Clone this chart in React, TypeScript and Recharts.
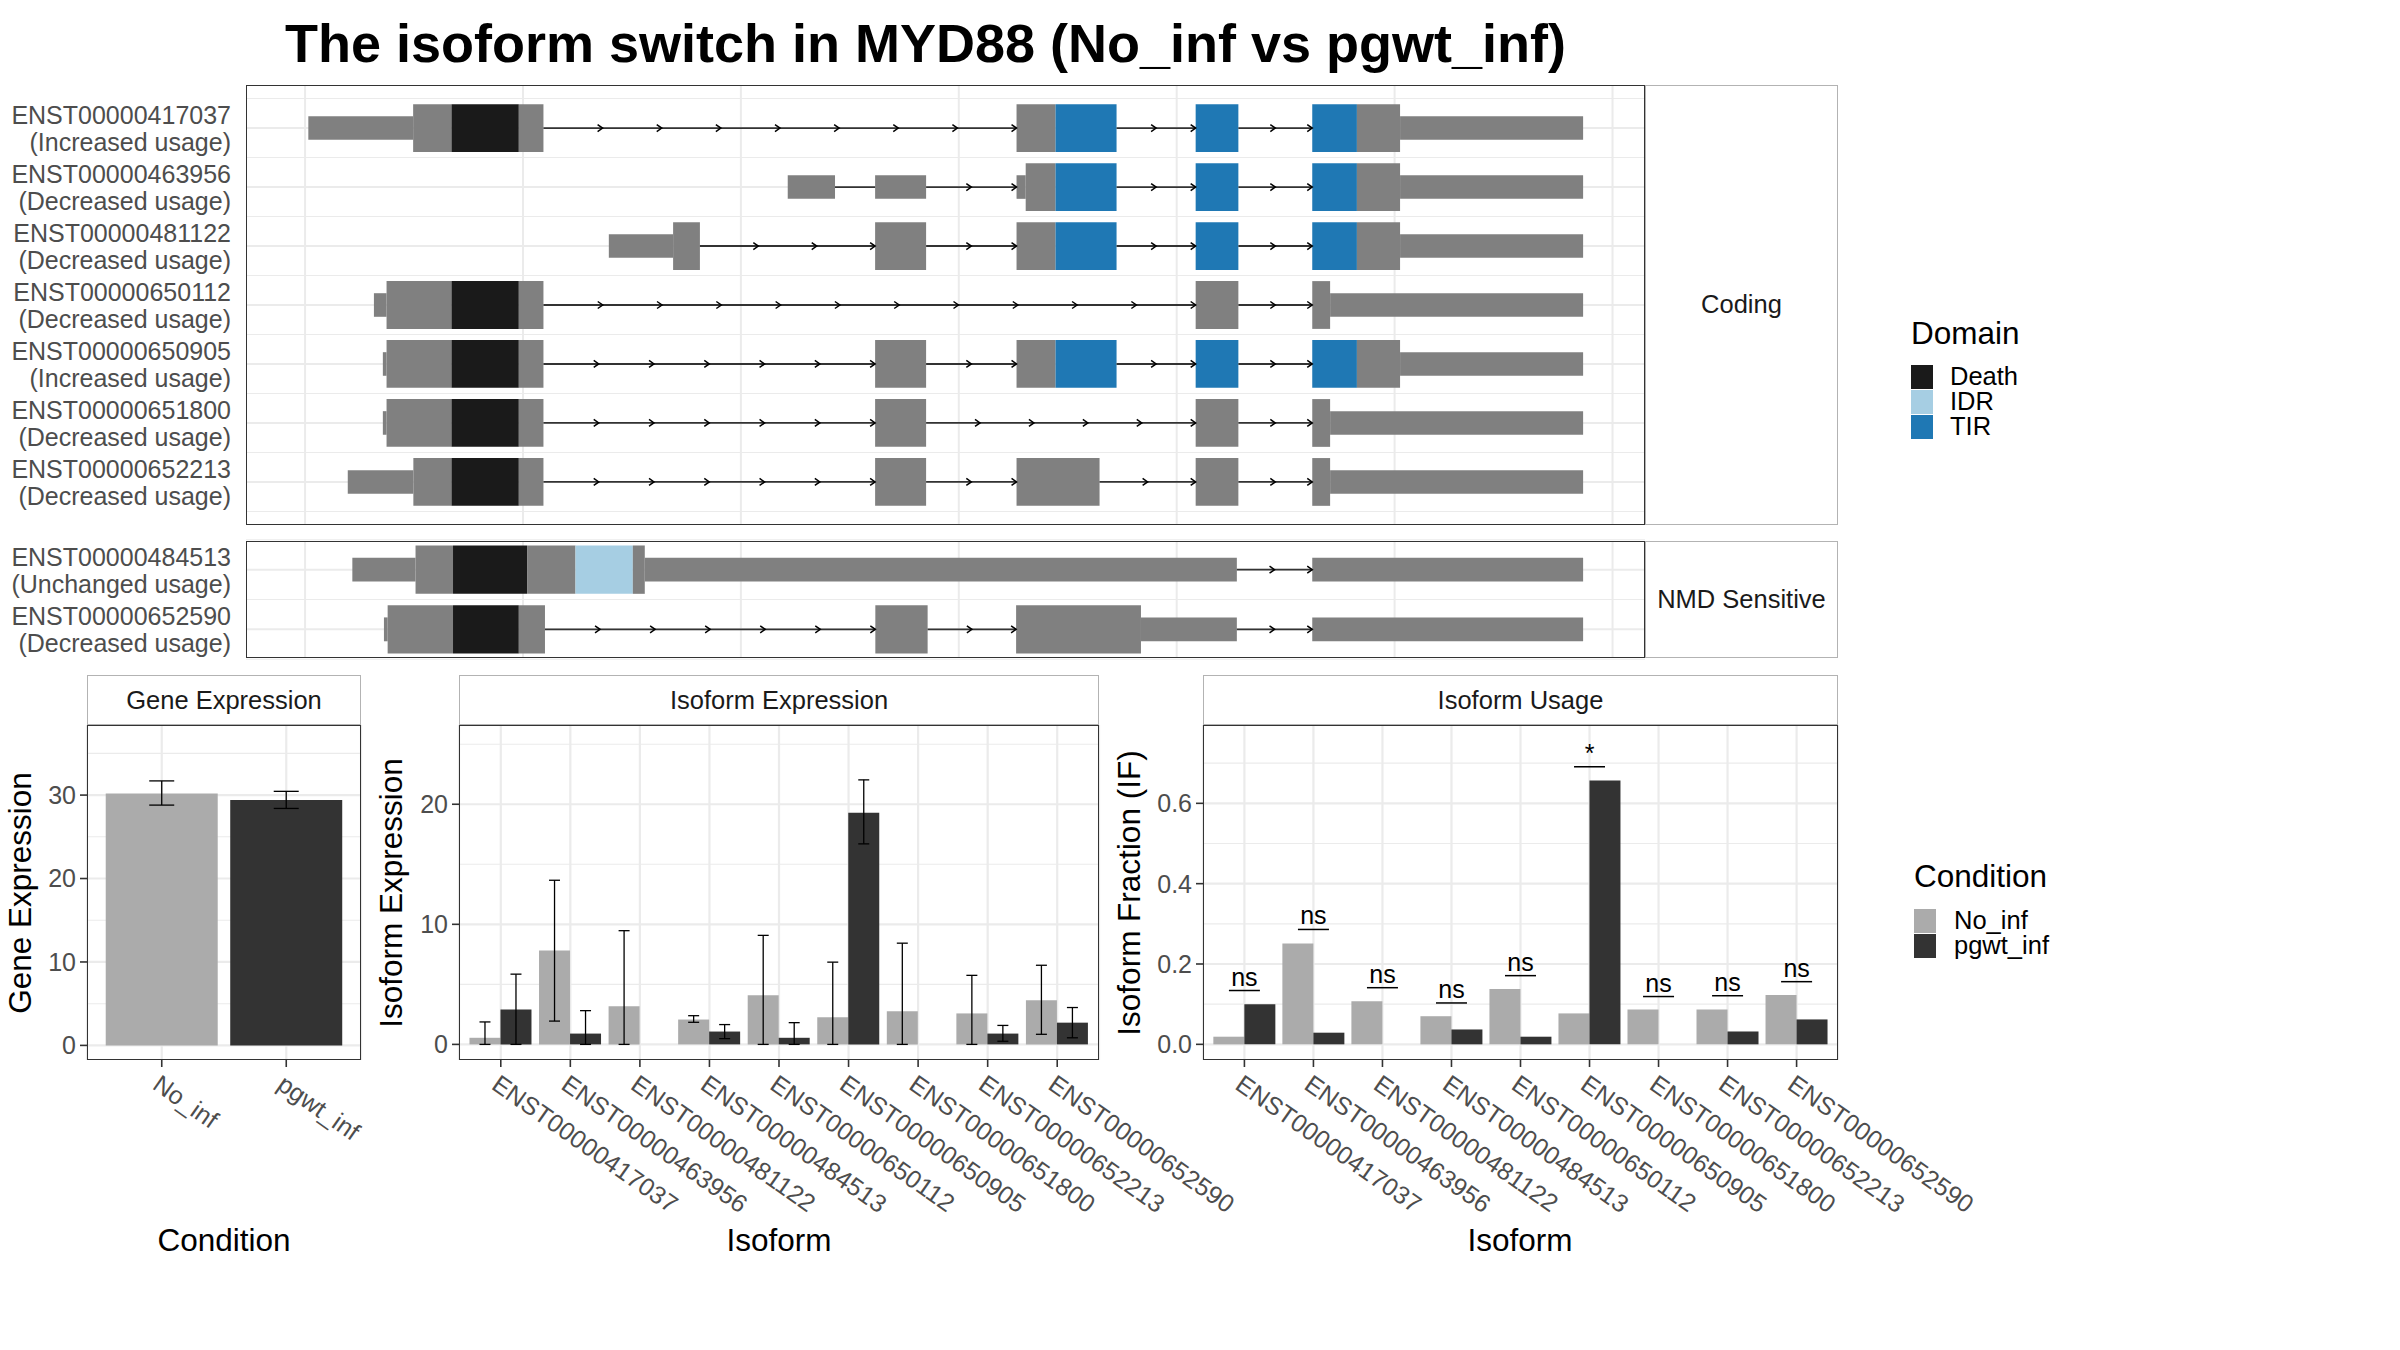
import React from 'react';
import {
  ScatterChart,
  ComposedChart,
  BarChart,
  Bar,
  Scatter,
  Cell,
  ErrorBar,
  XAxis,
  YAxis,
  CartesianGrid,
  ReferenceArea,
  ReferenceLine,
} from 'recharts';

const FONT = '"Liberation Sans", Arial, Helvetica, sans-serif';

// ---- isoform structures (genomic position in kb, part) ----
type Part = 'utr' | 'cds' | 'Death' | 'IDR' | 'TIR';
type Seg = [number, number, Part];

const codingIds = [
  'ENST00000417037',
  'ENST00000463956',
  'ENST00000481122',
  'ENST00000650112',
  'ENST00000650905',
  'ENST00000651800',
  'ENST00000652213',
];
const codingUsage = [
  'Increased usage',
  'Decreased usage',
  'Decreased usage',
  'Decreased usage',
  'Increased usage',
  'Decreased usage',
  'Decreased usage',
];
const codingExons: Seg[][] = [
  [[0.015, 0.496, 'utr'], [0.496, 0.672, 'cds'], [0.672, 0.981, 'Death'], [0.981, 1.094, 'cds'], [3.265, 3.444, 'cds'], [3.444, 3.724, 'TIR'], [4.087, 4.283, 'TIR'], [4.622, 4.827, 'TIR'], [4.827, 5.025, 'cds'], [5.025, 5.865, 'utr']],
  [[2.215, 2.432, 'utr'], [2.616, 2.85, 'utr'], [3.265, 3.307, 'utr'], [3.307, 3.444, 'cds'], [3.444, 3.724, 'TIR'], [4.087, 4.283, 'TIR'], [4.622, 4.827, 'TIR'], [4.827, 5.025, 'cds'], [5.025, 5.865, 'utr']],
  [[1.394, 1.689, 'utr'], [1.689, 1.812, 'cds'], [2.616, 2.85, 'cds'], [3.265, 3.444, 'cds'], [3.444, 3.724, 'TIR'], [4.087, 4.283, 'TIR'], [4.622, 4.827, 'TIR'], [4.827, 5.025, 'cds'], [5.025, 5.865, 'utr']],
  [[0.316, 0.374, 'utr'], [0.374, 0.672, 'cds'], [0.672, 0.981, 'Death'], [0.981, 1.094, 'cds'], [4.087, 4.283, 'cds'], [4.622, 4.704, 'cds'], [4.704, 5.865, 'utr']],
  [[0.357, 0.374, 'utr'], [0.374, 0.672, 'cds'], [0.672, 0.981, 'Death'], [0.981, 1.094, 'cds'], [2.616, 2.85, 'cds'], [3.265, 3.444, 'cds'], [3.444, 3.724, 'TIR'], [4.087, 4.283, 'TIR'], [4.622, 4.827, 'TIR'], [4.827, 5.025, 'cds'], [5.025, 5.865, 'utr']],
  [[0.357, 0.374, 'utr'], [0.374, 0.672, 'cds'], [0.672, 0.981, 'Death'], [0.981, 1.094, 'cds'], [2.616, 2.85, 'cds'], [4.087, 4.283, 'cds'], [4.622, 4.704, 'cds'], [4.704, 5.865, 'utr']],
  [[0.196, 0.497, 'utr'], [0.497, 0.672, 'cds'], [0.672, 0.981, 'Death'], [0.981, 1.094, 'cds'], [2.616, 2.85, 'cds'], [3.265, 3.646, 'cds'], [4.087, 4.283, 'cds'], [4.622, 4.704, 'cds'], [4.704, 5.865, 'utr']],
];

const nmdIds = ['ENST00000484513', 'ENST00000652590'];
const nmdUsage = ['Unchanged usage', 'Decreased usage'];
const nmdExons: Seg[][] = [
  [[0.217, 0.507, 'utr'], [0.507, 0.679, 'cds'], [0.679, 1.019, 'Death'], [1.019, 1.241, 'cds'], [1.241, 1.504, 'IDR'], [1.504, 1.559, 'cds'], [1.559, 4.276, 'utr'], [4.622, 5.865, 'utr']],
  [[0.362, 0.379, 'utr'], [0.379, 0.679, 'cds'], [0.679, 0.981, 'Death'], [0.981, 1.101, 'cds'], [2.617, 2.857, 'cds'], [3.263, 3.836, 'cds'], [3.836, 4.276, 'utr'], [4.622, 5.865, 'utr']],
];

const domainNames = ['Death', 'IDR', 'TIR'];
const domainColors: Record<string, string> = { Death: '#1A1A1A', IDR: '#A6CEE3', TIR: '#1F78B4' };
const EXON_GREY = '#808080';

// ---- expression / usage ----
const conditions = ['No_inf', 'pgwt_inf'];
const conditionColors = ['#ABABAB', '#333333'];

const geneMean = [30.2, 29.4];
const geneLow = [28.8, 28.4];
const geneHigh = [31.7, 30.45];

const isoforms = [
  'ENST00000417037',
  'ENST00000463956',
  'ENST00000481122',
  'ENST00000484513',
  'ENST00000650112',
  'ENST00000650905',
  'ENST00000651800',
  'ENST00000652213',
  'ENST00000652590',
];
const exprNo = [0.55, 7.82, 3.17, 2.07, 4.1, 2.26, 2.75, 2.58, 3.68];
const exprNoLow = [0, 1.94, 0, 1.84, 0, 0, 0, 0, 0.84];
const exprNoHigh = [1.87, 13.67, 9.47, 2.39, 9.08, 6.85, 8.43, 5.75, 6.59];
const exprPg = [2.9, 0.9, 0, 1.07, 0.55, 19.29, 0, 0.9, 1.81];
const exprPgLow = [0, 0, 0, 0.48, 0, 16.7, 0, 0.26, 0.55];
const exprPgHigh = [5.85, 2.81, 0, 1.65, 1.81, 22.03, 0, 1.58, 3.07];

const ifNo = [0.019, 0.251, 0.107, 0.07, 0.138, 0.077, 0.087, 0.087, 0.123];
const ifPg = [0.1, 0.029, 0, 0.037, 0.019, 0.657, 0, 0.032, 0.062];
const sigY = [0.134, 0.286, 0.141, 0.103, 0.171, 0.691, 0.119, 0.121, 0.156];
const sigLabel = ['ns', 'ns', 'ns', 'ns', 'ns', '*', 'ns', 'ns', 'ns'];

const geneTable = conditions.map((c, i) => ({
  condition: c,
  mean: geneMean[i],
  err: [geneMean[i] - geneLow[i], geneHigh[i] - geneMean[i]],
}));
const exprTable = isoforms.map((iso, i) => ({
  iso,
  no: exprNo[i],
  pg: exprPg[i],
  noErr: [exprNo[i] - exprNoLow[i], exprNoHigh[i] - exprNo[i]],
  pgErr: [exprPg[i] - exprPgLow[i], exprPgHigh[i] - exprPg[i]],
}));
const usageTable = isoforms.map((iso, i) => ({
  iso,
  no: ifNo[i],
  pg: ifPg[i],
  sig: sigY[i],
  sigLabel: sigLabel[i],
}));

// ---- layout ----
const GRID = '#EBEBEB';
const BORDER = '#333333';
const STRIP_BORDER = '#B3B3B3';
const TXT = '#4D4D4D';

const ST_LEFT = 246;
const ST_RIGHT = 1645;
const STRIP_RIGHT = 1838;
const LABEL_RIGHT = 231;
const X_DOMAIN: [number, number] = [-0.271, 6.149];
const GRID_KB = [0, 1, 2, 3, 4, 5, 6];

const CODING_TOP = 84.5;
const CODING_BOTTOM = 524.5;
const NMD_TOP = 540.5;
const NMD_BOTTOM = 657.5;

const STRIP_TOP = 675;
const BAR_TOP = 725;
const BAR_BOTTOM = 1060;
const BAR_CHART_BOTTOM = 1225;

function rowLabelTick(ids: string[], usage: string[]) {
  return (props: any) => {
    const { y, payload } = props;
    const i = Math.round(payload.value) - 1;
    if (i < 0 || i >= ids.length) return <g />;
    return (
      <text textAnchor="end" fill={TXT} fontSize={25} fontFamily={FONT}>
        <tspan x={LABEL_RIGHT} y={y - 4}>{ids[i]}</tspan>
        <tspan x={LABEL_RIGHT} y={y + 23}>{`(${usage[i]})`}</tspan>
      </text>
    );
  };
}

function ArrowHead(props: any) {
  const { cx, cy } = props;
  return (
    <path
      d={`M${cx - 5},${cy - 3.5}L${cx},${cy}L${cx - 5},${cy + 3.5}`}
      fill="none"
      stroke="#000"
      strokeWidth={1.5}
    />
  );
}

function StructurePanel(props: {
  ids: string[];
  usage: string[];
  exons: Seg[][];
  top: number;
  height: number;
  yDomain: [number, number];
}) {
  const { ids, usage, exons, top, height, yDomain } = props;
  const rows = ids.map((_, i) => i + 1);
  const minorRows = [...rows.map((r) => r - 0.5), rows.length + 0.5];
  const introns: { a: number; b: number; row: number }[] = [];
  const arrows: { x: number; y: number }[] = [];
  exons.forEach((segs, i) => {
    for (let k = 0; k + 1 < segs.length; k++) {
      const a = segs[k][1];
      const b = segs[k + 1][0];
      if (b - a > 0.01) {
        introns.push({ a, b, row: i + 1 });
        const len = b - a;
        const n = len < 0.25 ? 0 : Math.max(2, Math.round(len / 0.27));
        for (let j = 1; j <= n; j++) arrows.push({ x: a + (len * j) / n, y: i + 1 });
      }
    }
  });

  return (
    <div style={{ position: 'absolute', left: 0, top }}>
      <ScatterChart width={ST_RIGHT} height={height} margin={{ top: 0, right: 0, bottom: 0, left: 0 }}>
        <CartesianGrid stroke={GRID} strokeWidth={1.1} vertical={false} horizontalValues={minorRows} />
        <CartesianGrid stroke={GRID} strokeWidth={2} horizontalValues={rows} verticalValues={GRID_KB} />
        <XAxis type="number" dataKey="x" domain={X_DOMAIN} allowDataOverflow hide />
        <YAxis
          type="number"
          dataKey="y"
          domain={yDomain}
          allowDataOverflow
          reversed
          ticks={rows}
          interval={0}
          width={ST_LEFT}
          axisLine={false}
          tickLine={false}
          tick={rowLabelTick(ids, usage)}
        />
        {exons.flatMap((segs, i) =>
          segs.map(([s, e, part], k) => {
            const h = part === 'utr' ? 0.2 : 0.405;
            const fill = part === 'utr' || part === 'cds' ? EXON_GREY : domainColors[part];
            return (
              <ReferenceArea
                key={`ex-${i}-${k}`}
                x1={s}
                x2={e}
                y1={i + 1 - h}
                y2={i + 1 + h}
                fill={fill}
                fillOpacity={1}
                stroke="none"
              />
            );
          }),
        )}
        {introns.map((t, i) => (
          <ReferenceLine
            key={`in-${i}`}
            segment={[
              { x: t.a, y: t.row },
              { x: t.b, y: t.row },
            ]}
            stroke="#333333"
            strokeWidth={1.8}
          />
        ))}
        <Scatter data={arrows} shape={<ArrowHead />} isAnimationActive={false} />
      </ScatterChart>
    </div>
  );
}

function SlantTick(props: any) {
  const { x, y, payload } = props;
  return (
    <text
      x={x}
      y={y}
      transform={`rotate(35 ${x} ${y})`}
      textAnchor="start"
      dominantBaseline="hanging"
      fill={TXT}
      fontSize={25}
      fontFamily={FONT}
    >
      {payload.value}
    </text>
  );
}

function SigMark(props: any) {
  const { cx, cy, payload } = props;
  const hw = 15.5;
  return (
    <g>
      <line x1={cx - hw} x2={cx + hw} y1={cy} y2={cy} stroke="#000" strokeWidth={1.5} />
      <text x={cx} y={cy - 5} textAnchor="middle" fontSize={25} fontFamily={FONT} fill="#000">
        {payload.sigLabel}
      </text>
    </g>
  );
}

const tickStyle = { fill: TXT, fontSize: 25, fontFamily: FONT };
const tickLineStyle = { stroke: BORDER, strokeWidth: 1.6 };

function Box(props: { l: number; t: number; r: number; b: number; color: string; children?: React.ReactNode }) {
  const { l, t, r, b, color, children } = props;
  return (
    <div
      style={{
        position: 'absolute',
        left: l,
        top: t,
        width: r - l,
        height: b - t,
        border: `1.6px solid ${color}`,
        boxSizing: 'border-box',
        display: 'flex',
        alignItems: 'center',
        justifyContent: 'center',
        fontSize: 25.5,
        color: '#1A1A1A',
        pointerEvents: 'none',
        whiteSpace: 'nowrap',
      }}
    >
      {children}
    </div>
  );
}

function AxisTitle(props: { x: number; y: number; text: string; rotate?: boolean }) {
  const { x, y, text, rotate } = props;
  return (
    <div
      style={{
        position: 'absolute',
        left: x,
        top: y,
        transform: `translate(-50%, -50%)${rotate ? ' rotate(-90deg)' : ''}`,
        fontSize: 31.5,
        whiteSpace: 'nowrap',
        color: '#000',
        lineHeight: 1,
      }}
    >
      {text}
    </div>
  );
}

function Legend(props: {
  title: string;
  items: string[];
  colors: string[];
  left: number;
  top: number;
  labelLeft: number;
  gap: number;
}) {
  const { title, items, colors, left, top, labelLeft, gap } = props;
  return (
    <div style={{ position: 'absolute', left, top }}>
      <div style={{ fontSize: 31.5, lineHeight: '34px', marginBottom: gap, whiteSpace: 'nowrap' }}>{title}</div>
      {items.map((it, i) => (
        <div key={it} style={{ display: 'flex', alignItems: 'center', height: 25 }}>
          <div style={{ width: 22, height: 24, background: colors[i] }} />
          <div style={{ marginLeft: labelLeft - 22, fontSize: 25.5, lineHeight: 1, whiteSpace: 'nowrap' }}>{it}</div>
        </div>
      ))}
    </div>
  );
}

export default function App() {
  const barH = BAR_CHART_BOTTOM - BAR_TOP;
  const axisH = BAR_CHART_BOTTOM - BAR_BOTTOM;
  const midY = (BAR_TOP + BAR_BOTTOM) / 2;
  return (
    <div
      style={{
        position: 'absolute',
        left: 0,
        top: 0,
        width: 2400,
        height: 1350,
        background: '#fff',
        fontFamily: FONT,
        overflow: 'hidden',
      }}
    >
      <style>{`.recharts-surface{overflow:visible}`}</style>
      <div
        style={{
          position: 'absolute',
          left: 0,
          top: 16,
          width: 1851,
          textAlign: 'center',
          fontSize: 54,
          fontWeight: 'bold',
          lineHeight: '54px',
          whiteSpace: 'nowrap',
        }}
      >
        The isoform switch in MYD88 (No_inf vs pgwt_inf)
      </div>

      <StructurePanel
        ids={codingIds}
        usage={codingUsage}
        exons={codingExons}
        top={CODING_TOP}
        height={CODING_BOTTOM - CODING_TOP}
        yDomain={[0.27, 7.73]}
      />
      <Box l={ST_LEFT} t={CODING_TOP} r={ST_RIGHT} b={CODING_BOTTOM} color={BORDER} />
      <Box l={ST_RIGHT} t={CODING_TOP} r={STRIP_RIGHT} b={CODING_BOTTOM} color={STRIP_BORDER}>
        Coding
      </Box>

      <StructurePanel
        ids={nmdIds}
        usage={nmdUsage}
        exons={nmdExons}
        top={NMD_TOP}
        height={NMD_BOTTOM - NMD_TOP}
        yDomain={[0.52, 2.48]}
      />
      <Box l={ST_LEFT} t={NMD_TOP} r={ST_RIGHT} b={NMD_BOTTOM} color={BORDER} />
      <Box l={ST_RIGHT} t={NMD_TOP} r={STRIP_RIGHT} b={NMD_BOTTOM} color={STRIP_BORDER}>
        NMD Sensitive
      </Box>

      <Legend
        title="Domain"
        items={domainNames}
        colors={domainNames.map((d) => domainColors[d])}
        left={1911}
        top={316}
        labelLeft={39}
        gap={14}
      />
      <Legend title="Condition" items={conditions} colors={conditionColors} left={1914} top={859} labelLeft={40} gap={15} />

      {/* Gene expression */}
      <div style={{ position: 'absolute', left: 37, top: BAR_TOP }}>
        <BarChart width={324} height={barH} data={geneTable} margin={{ top: 0, right: 0, bottom: 0, left: 0 }} barCategoryGap="5%">
          <CartesianGrid stroke={GRID} strokeWidth={1.1} vertical={false} horizontalValues={[5, 15, 25, 35]} />
          <CartesianGrid stroke={GRID} strokeWidth={2.2} horizontalValues={[0, 10, 20, 30]} />
          <XAxis
            dataKey="condition"
            padding={{ left: 12.5, right: 12.5 }}
            height={axisH}
            interval={0}
            axisLine={false}
            tickLine={tickLineStyle}
            tickSize={7}
            tickMargin={6}
            tick={<SlantTick />}
          />
          <YAxis
            type="number"
            domain={[-1.75, 38.4]}
            allowDataOverflow
            ticks={[0, 10, 20, 30]}
            width={50}
            axisLine={false}
            tickLine={tickLineStyle}
            tickSize={7}
            tickMargin={4}
            tick={tickStyle}
          />
          <Bar dataKey="mean" isAnimationActive={false}>
            {conditions.map((c, i) => (
              <Cell key={c} fill={conditionColors[i]} />
            ))}
            <ErrorBar dataKey="err" width={12.5} stroke="#000" strokeWidth={1.3} />
          </Bar>
        </BarChart>
      </div>
      <Box l={87} t={STRIP_TOP} r={361} b={BAR_TOP} color={STRIP_BORDER}>
        Gene Expression
      </Box>
      <Box l={87} t={BAR_TOP} r={361} b={BAR_BOTTOM} color={BORDER} />
      <AxisTitle x={21} y={midY} text="Gene Expression" rotate />
      <AxisTitle x={224} y={1241} text="Condition" />

      {/* Isoform expression */}
      <div style={{ position: 'absolute', left: 409, top: BAR_TOP }}>
        <BarChart width={690} height={barH} data={exprTable} margin={{ top: 0, right: 0, bottom: 0, left: 0 }} barCategoryGap="5%" barGap={0}>
          <CartesianGrid stroke={GRID} strokeWidth={1.1} vertical={false} horizontalValues={[5, 15, 25]} />
          <CartesianGrid stroke={GRID} strokeWidth={2.2} horizontalValues={[0, 10, 20]} />
          <XAxis
            dataKey="iso"
            padding={{ left: 7, right: 7 }}
            height={axisH}
            interval={0}
            axisLine={false}
            tickLine={tickLineStyle}
            tickSize={7}
            tickMargin={6}
            tick={<SlantTick />}
          />
          <YAxis
            type="number"
            domain={[-1.3, 26.6]}
            allowDataOverflow
            ticks={[0, 10, 20]}
            width={50}
            axisLine={false}
            tickLine={tickLineStyle}
            tickSize={7}
            tickMargin={4}
            tick={tickStyle}
          />
          <Bar dataKey="no" fill={conditionColors[0]} isAnimationActive={false}>
            <ErrorBar dataKey="noErr" width={5.5} stroke="#000" strokeWidth={1.3} />
          </Bar>
          <Bar dataKey="pg" fill={conditionColors[1]} isAnimationActive={false}>
            <ErrorBar dataKey="pgErr" width={5.5} stroke="#000" strokeWidth={1.3} />
          </Bar>
        </BarChart>
      </div>
      <Box l={459} t={STRIP_TOP} r={1099} b={BAR_TOP} color={STRIP_BORDER}>
        Isoform Expression
      </Box>
      <Box l={459} t={BAR_TOP} r={1099} b={BAR_BOTTOM} color={BORDER} />
      <AxisTitle x={392} y={midY} text="Isoform Expression" rotate />
      <AxisTitle x={779} y={1241} text="Isoform" />

      {/* Isoform usage */}
      <div style={{ position: 'absolute', left: 1143, top: BAR_TOP }}>
        <ComposedChart width={695} height={barH} data={usageTable} margin={{ top: 0, right: 0, bottom: 0, left: 0 }} barCategoryGap="5%" barGap={0}>
          <CartesianGrid stroke={GRID} strokeWidth={1.1} vertical={false} horizontalValues={[0.1, 0.3, 0.5, 0.7]} />
          <CartesianGrid stroke={GRID} strokeWidth={2.2} horizontalValues={[0, 0.2, 0.4, 0.6]} />
          <XAxis
            dataKey="iso"
            padding={{ left: 6.9, right: 6.9 }}
            height={axisH}
            interval={0}
            axisLine={false}
            tickLine={tickLineStyle}
            tickSize={7}
            tickMargin={6}
            tick={<SlantTick />}
          />
          <YAxis
            type="number"
            domain={[-0.039, 0.795]}
            allowDataOverflow
            ticks={[0, 0.2, 0.4, 0.6]}
            tickFormatter={(v: number) => v.toFixed(1)}
            width={60}
            axisLine={false}
            tickLine={tickLineStyle}
            tickSize={7}
            tickMargin={4}
            tick={tickStyle}
          />
          <Bar dataKey="no" fill={conditionColors[0]} isAnimationActive={false} />
          <Bar dataKey="pg" fill={conditionColors[1]} isAnimationActive={false} />
          <Scatter dataKey="sig" shape={<SigMark />} isAnimationActive={false} />
        </ComposedChart>
      </div>
      <Box l={1203} t={STRIP_TOP} r={1838} b={BAR_TOP} color={STRIP_BORDER}>
        Isoform Usage
      </Box>
      <Box l={1203} t={BAR_TOP} r={1838} b={BAR_BOTTOM} color={BORDER} />
      <AxisTitle x={1130} y={midY} text="Isoform Fraction (IF)" rotate />
      <AxisTitle x={1520} y={1241} text="Isoform" />
    </div>
  );
}
